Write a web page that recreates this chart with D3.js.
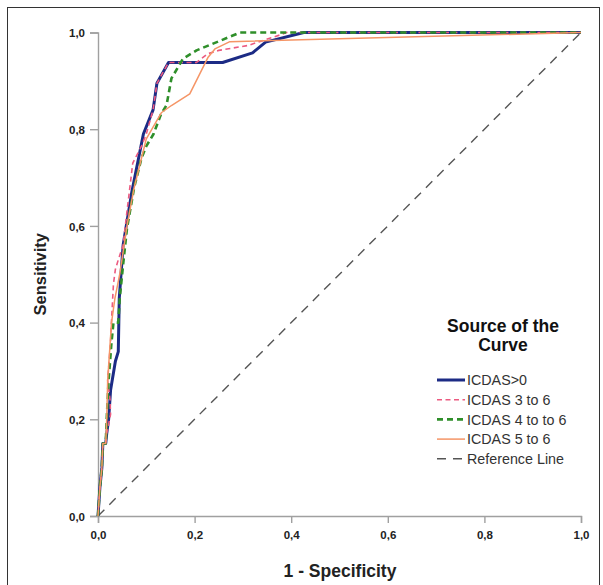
<!DOCTYPE html>
<html>
<head>
<meta charset="utf-8">
<script src="https://cdn.jsdelivr.net/npm/d3@7.9.0/dist/d3.min.js"></script>
<style>
  html, body { margin: 0; padding: 0; background: #fff; }
  svg { display: block; font-family: "Liberation Sans", Arial, sans-serif; }
</style>
</head>
<body>
<svg id="chart" width="603" height="585"></svg>
<script>
// ROC curves: [1 - specificity, sensitivity]
const icdas0 = [[0,0],[0.004,0.06],[0.008,0.1],[0.01,0.15],[0.016,0.15],[0.018,0.17],[0.022,0.2],[0.026,0.26],[0.036,0.32],[0.042,0.34],[0.044,0.45],[0.052,0.56],[0.07,0.67],[0.094,0.79],[0.114,0.84],[0.122,0.895],[0.146,0.938],[0.258,0.938],[0.32,0.958],[0.347,0.98],[0.426,1],[1,1]];
const icdas3to6 = [[0,0],[0.004,0.06],[0.008,0.1],[0.01,0.15],[0.016,0.15],[0.018,0.17],[0.026,0.21],[0.025,0.24],[0.02,0.28],[0.026,0.36],[0.028,0.405],[0.032,0.48],[0.036,0.51],[0.042,0.53],[0.052,0.56],[0.06,0.63],[0.072,0.73],[0.09,0.765],[0.1,0.79],[0.114,0.84],[0.122,0.895],[0.146,0.938],[0.204,0.938],[0.227,0.956],[0.25,0.963],[0.31,0.973],[0.38,0.996],[0.39,1],[1,1]];
const icdas4to6 = [[0,0],[0.004,0.06],[0.008,0.1],[0.01,0.15],[0.016,0.15],[0.018,0.2],[0.022,0.28],[0.028,0.36],[0.032,0.4],[0.042,0.4],[0.045,0.45],[0.052,0.52],[0.06,0.595],[0.075,0.68],[0.09,0.74],[0.1,0.765],[0.115,0.79],[0.13,0.83],[0.142,0.85],[0.152,0.905],[0.176,0.946],[0.204,0.963],[0.253,0.983],[0.294,1],[1,1]];
const icdas5to6 = [[0,0],[0.004,0.06],[0.008,0.1],[0.01,0.15],[0.016,0.15],[0.018,0.2],[0.02,0.28],[0.028,0.4],[0.035,0.45],[0.045,0.5],[0.06,0.6],[0.075,0.68],[0.09,0.74],[0.1,0.78],[0.131,0.834],[0.152,0.849],[0.19,0.873],[0.228,0.949],[0.242,0.966],[0.273,0.981],[1,1]];
const referenceLine = [[0,0],[1,1]];

const tickValues = [0, 0.2, 0.4, 0.6, 0.8, 1.0];
const legendTitle = ["Source of the", "Curve"];

const series = [
  { name: "ICDAS>0",         data: icdas0,        color: "#1c2b85", width: 3,   dash: null },
  { name: "ICDAS 3 to 6",    data: icdas3to6,     color: "#ec5a80", width: 1.6, dash: "5,3.5" },
  { name: "ICDAS 4 to to 6", data: icdas4to6,     color: "#2f8f2a", width: 2.6, dash: "6,4" },
  { name: "ICDAS 5 to 6",    data: icdas5to6,     color: "#f59566", width: 1.5, dash: null },
  { name: "Reference Line",  data: referenceLine, color: "#555555", width: 1.4, dash: "9,7" }
];

const svg = d3.select('#chart');

// outer frame
svg.append('rect')
  .attr('x', 7.5).attr('y', 7.5)
  .attr('width', 592).attr('height', 620)
  .attr('fill', 'none').attr('stroke', '#333').attr('stroke-width', 1);

const x = d3.scaleLinear().domain([0, 1]).range([98, 581]);
const y = d3.scaleLinear().domain([0, 1]).range([516, 32.5]);

const fmt = d => d3.format('.1f')(d).replace('.', ',');

// axes
const xAxis = svg.append('g')
  .attr('transform', `translate(0,${y(0)})`)
  .call(d3.axisBottom(x).tickValues(tickValues).tickFormat(fmt).tickSize(7).tickPadding(8));
const yAxis = svg.append('g')
  .attr('transform', `translate(${x(0)},0)`)
  .call(d3.axisLeft(y).tickValues(tickValues).tickFormat(fmt).tickSize(8).tickPadding(5));

[xAxis, yAxis].forEach(g => {
  g.select('.domain').attr('stroke', '#a0a0a0').attr('stroke-width', 1.4);
  g.selectAll('.tick line').attr('stroke', '#a0a0a0').attr('stroke-width', 1.4);
  g.selectAll('.tick text')
    .attr('fill', '#222')
    .style('font-size', '11.5px')
    .style('font-weight', 'bold');
});
yAxis.selectAll('.tick text').attr('dy', '0.36em');

// axis titles
svg.append('text')
  .attr('x', 340).attr('y', 577)
  .attr('text-anchor', 'middle')
  .style('font-size', '17.5px').style('font-weight', 'bold').attr('fill', '#222')
  .text('1 - Specificity');
svg.append('text')
  .attr('transform', `translate(46,${y(0.5)}) rotate(-90)`)
  .attr('text-anchor', 'middle')
  .style('font-size', '16.5px').style('font-weight', 'bold').attr('fill', '#222')
  .text('Sensitivity');

// curves
const line = d3.line().x(d => x(d[0])).y(d => y(d[1]));
const drawOrder = [4, 0, 1, 2, 3];
drawOrder.forEach(i => {
  const s = series[i];
  svg.append('path')
    .datum(s.data)
    .attr('d', line)
    .attr('fill', 'none')
    .attr('stroke', s.color)
    .attr('stroke-width', s.width)
    .attr('stroke-dasharray', s.dash)
    .attr('stroke-linejoin', 'round');
});

// legend
const legend = svg.append('g');
legendTitle.forEach((t, i) => {
  legend.append('text')
    .attr('x', 503).attr('y', 332 + i * 19)
    .attr('text-anchor', 'middle')
    .style('font-size', '17.5px').style('font-weight', 'bold').attr('fill', '#111')
    .text(t);
});
series.forEach((s, i) => {
  const cy = 380 + i * 19.7;
  legend.append('line')
    .attr('x1', 437).attr('x2', 465)
    .attr('y1', cy).attr('y2', cy)
    .attr('stroke', s.color)
    .attr('stroke-width', s.width)
    .attr('stroke-dasharray', s.dash);
  legend.append('text')
    .attr('x', 467).attr('y', cy)
    .attr('dy', '0.36em')
    .style('font-size', '14.3px').attr('fill', '#333')
    .text(s.name);
});
</script>
</body>
</html>
